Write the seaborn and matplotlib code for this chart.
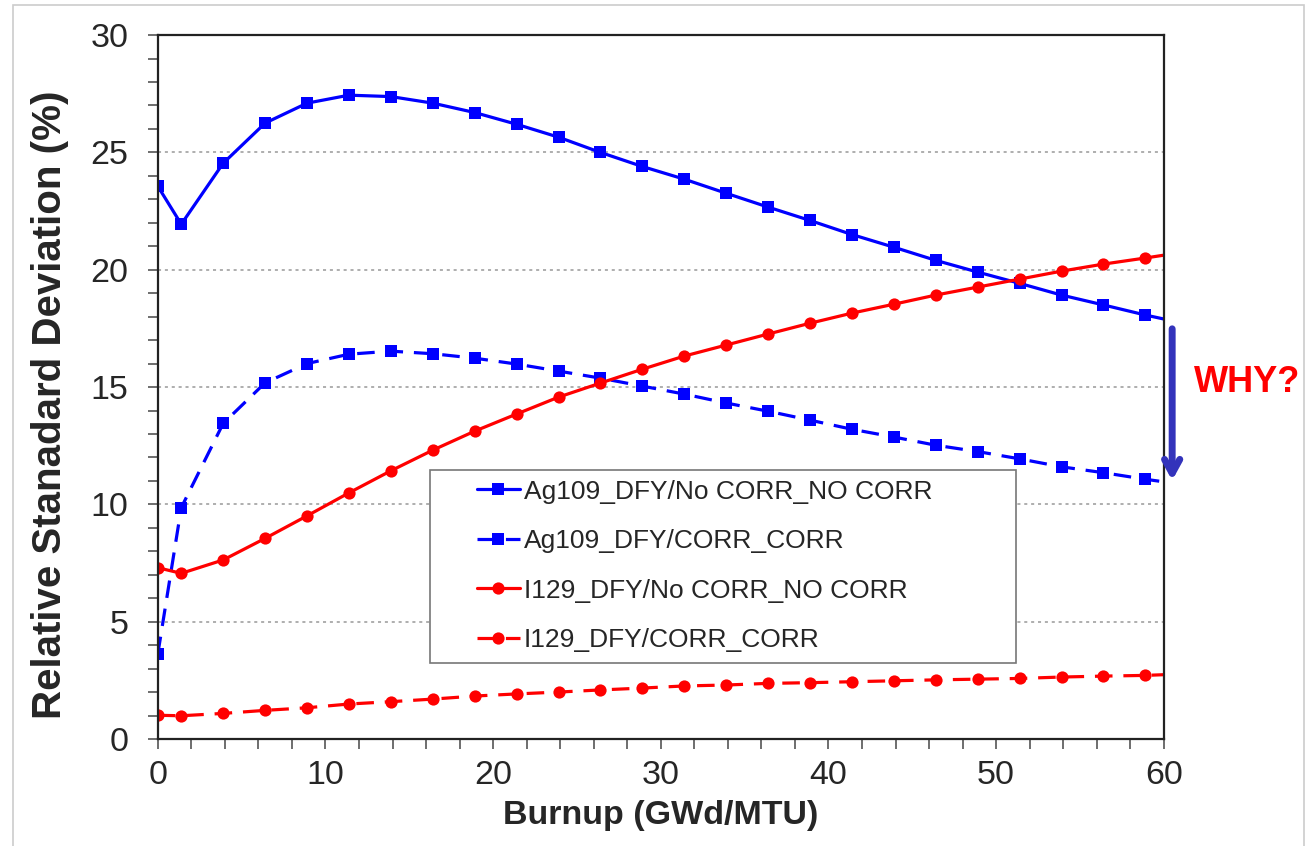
import pandas as pd
import matplotlib
matplotlib.use('Agg')
import matplotlib.pyplot as plt
import seaborn as sns
from matplotlib.patches import Rectangle
from matplotlib.ticker import MultipleLocator

# burnup steps (GWd/MTU)
burnup = [0.0, 1.4, 3.9, 6.4, 8.9, 11.4, 13.9, 16.4, 18.9, 21.4, 23.9, 26.4,
          28.9, 31.4, 33.9, 36.4, 38.9, 41.4, 43.9, 46.4, 48.9, 51.4, 53.9,
          56.4, 58.9, 60.0]

ag109_nocorr = [23.56, 21.94, 24.54, 26.25, 27.10, 27.44, 27.38, 27.10, 26.70,
                26.20, 25.65, 25.00, 24.40, 23.86, 23.26, 22.67, 22.10, 21.50,
                20.96, 20.40, 19.90, 19.42, 18.92, 18.50, 18.07, 17.90]
ag109_corr = [3.62, 9.86, 13.45, 15.18, 16.00, 16.40, 16.53, 16.42, 16.23,
              15.98, 15.68, 15.38, 15.04, 14.70, 14.32, 13.97, 13.59, 13.20,
              12.87, 12.52, 12.25, 11.94, 11.60, 11.35, 11.07, 10.96]
i129_nocorr = [7.30, 7.06, 7.63, 8.55, 9.51, 10.49, 11.43, 12.31, 13.12, 13.85,
               14.57, 15.17, 15.76, 16.32, 16.79, 17.26, 17.72, 18.15, 18.53,
               18.92, 19.26, 19.60, 19.94, 20.24, 20.50, 20.62]
i129_corr = [1.01, 0.99, 1.09, 1.22, 1.33, 1.49, 1.59, 1.70, 1.83, 1.92, 2.00,
             2.09, 2.17, 2.26, 2.30, 2.37, 2.40, 2.44, 2.48, 2.52, 2.55, 2.58,
             2.64, 2.68, 2.71, 2.74]

labels = ['Ag109_DFY/No CORR_NO CORR', 'Ag109_DFY/CORR_CORR',
          'I129_DFY/No CORR_NO CORR', 'I129_DFY/CORR_CORR']

sns.set_style('white')
plt.rcParams['font.family'] = ['Liberation Sans', 'DejaVu Sans']

fig = plt.figure(figsize=(13.15, 8.46), dpi=100)
ax = fig.add_axes([0.120, 0.1265, 0.765, 0.832])

df = pd.DataFrame({'burnup': burnup, 'a1': ag109_nocorr, 'a2': ag109_corr,
                   'i1': i129_nocorr, 'i2': i129_corr})
marks = list(range(len(burnup) - 1))

series = [('a1', '#0000FF', 's', False), ('a2', '#0000FF', 's', True),
          ('i1', '#FF0000', 'o', False), ('i2', '#FF0000', 'o', True)]
handles = []
for (col, color, mk, dashed), lab in zip(series, labels):
    sns.lineplot(data=df, x='burnup', y=col, ax=ax, color=color, marker=mk,
                 markersize=9.3 if mk == 's' else 8.8, markeredgewidth=0,
                 linewidth=2.3, markevery=marks, label=lab, sort=False)
    line = ax.lines[-1]
    if dashed:
        line.set_dashes([5.5, 3.4])
    handles.append(line)

ax.set_xlim(0, 60)
ax.set_ylim(0, 30)
ax.xaxis.set_major_locator(MultipleLocator(10))
ax.xaxis.set_minor_locator(MultipleLocator(2))
ax.yaxis.set_major_locator(MultipleLocator(5))
ax.yaxis.set_minor_locator(MultipleLocator(1))
ax.tick_params(axis='both', which='major', direction='out', length=7,
               width=1.2, color='#555555', labelsize=24.5, pad=10)
ax.tick_params(axis='both', which='minor', direction='out', length=7,
               width=1.2, color='#555555')
ax.tick_params(axis='x', which='major', pad=8)
ax.tick_params(axis='y', which='major', pad=14)
ax.tick_params(bottom=True, left=True, which='both')

for y in [5, 10, 15, 20, 25]:
    ax.axhline(y, color='#999999', linestyle=(0, (2, 2.5)), linewidth=1.1,
               zorder=0)
for s in ax.spines.values():
    s.set_color('#222222')
    s.set_linewidth(1.6)

ax.set_xlabel('Burnup (GWd/MTU)', fontsize=24.5, fontweight='bold')
ax.xaxis.set_label_coords(0.5, -0.087)
ax.set_ylabel('Relative Stanadard Deviation (%)', fontsize=29,
              fontweight='bold')
ax.yaxis.set_label_coords(-0.088, 0.475)

# legend frame drawn separately, the entries sit indented inside it
ax.add_patch(Rectangle((0.271, 0.108), 0.582, 0.274, transform=ax.transAxes,
                       facecolor='white', edgecolor='#777777', linewidth=1.2,
                       zorder=4))
leg = ax.legend(handles=handles, labels=labels, loc='upper left',
                bbox_to_anchor=(0.317, 0.3686), fontsize=19, frameon=False,
                borderpad=0, labelspacing=0.97, handlelength=1.63,
                handletextpad=0.16, borderaxespad=0)
leg.set_zorder(5)

ax.annotate('', xy=(60.5, 10.9), xytext=(60.5, 17.6),
            arrowprops=dict(arrowstyle='->,head_length=1.0,head_width=0.55',
                            color='#3333BB', lw=5),
            annotation_clip=False)
ax.text(65.0, 15.2, 'WHY?', color='#FF0000', fontsize=26, fontweight='bold',
        ha='center', va='center', clip_on=False)

fig.patches.append(Rectangle((0.0099, -0.01), 0.982, 1.004,
                             transform=fig.transFigure, fill=False,
                             edgecolor='#CCCCCC', linewidth=1.2))

fig.savefig('out.png', dpi=100)
